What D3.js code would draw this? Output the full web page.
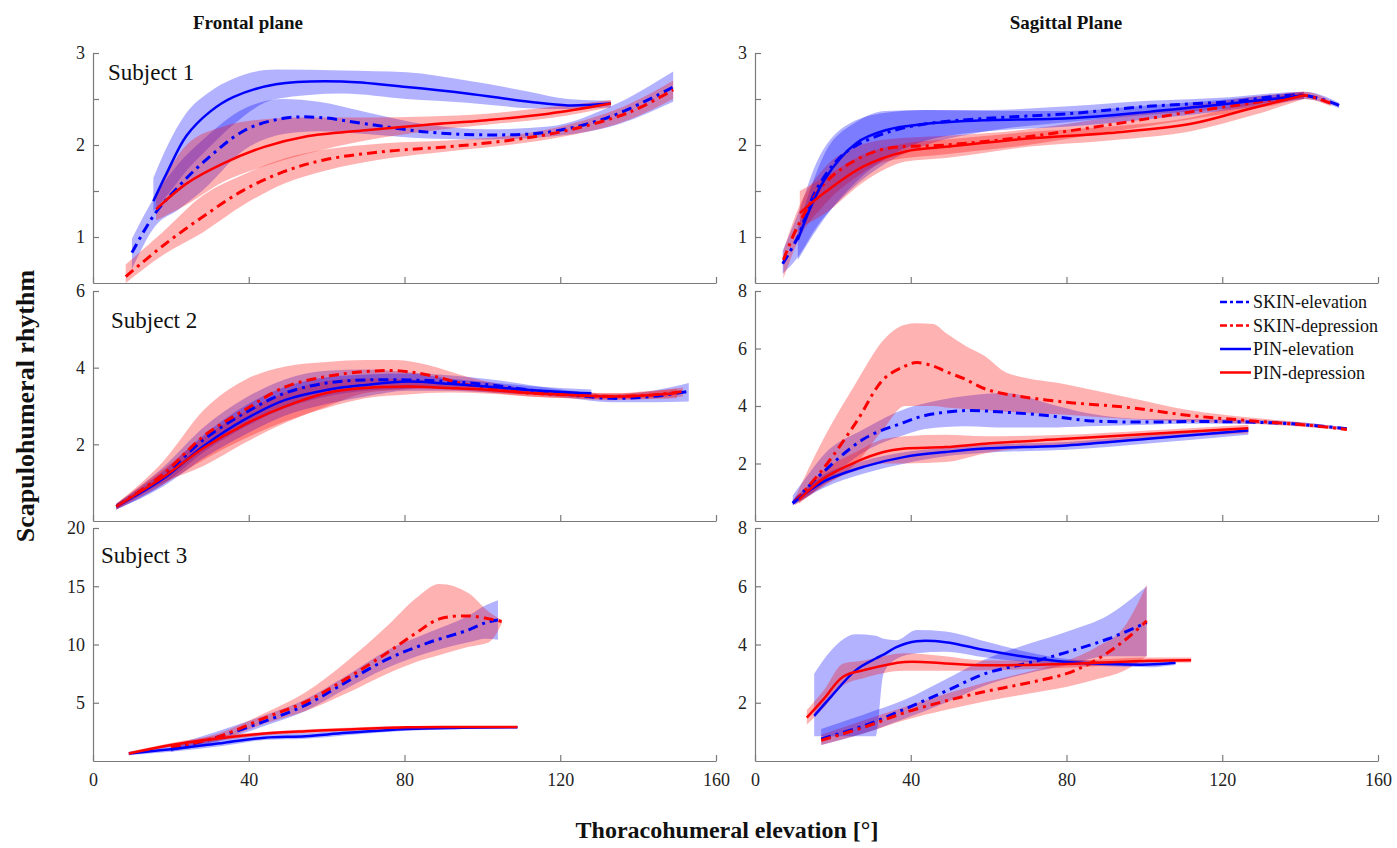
<!DOCTYPE html>
<html>
<head>
<meta charset="utf-8">
<script src="https://cdn.jsdelivr.net/npm/d3@7/dist/d3.min.js"></script>
<style>
  body { margin: 0; background: #fff; }
  svg { display: block; font-family: "Liberation Serif", "Times New Roman", serif; }
</style>
</head>
<body>
<div id="chart"></div>
<script>
// rows are [elevation, mean, lower, upper]
const seriesNames = ["SKIN-elevation", "SKIN-depression", "PIN-elevation", "PIN-depression"];
const planeTitles = ["Frontal plane", "Sagittal Plane"];
const subjectNames = ["Subject 1", "Subject 2", "Subject 3"];
const xTicks = [0, 40, 80, 120, 160];

// ---- subject 1, frontal
const f1SkinElev = [[10, 0.83, 0.65, 0.98], [16, 1.26, 1.12, 1.45], [22, 1.55, 1.3, 1.8], [28, 1.8, 1.5, 2.05],
  [39, 2.16, 1.95, 2.4], [49, 2.29, 2.12, 2.5], [58, 2.30, 2.15, 2.47], [70, 2.23, 2.12, 2.36], [86, 2.14, 2.07, 2.22],
  [101, 2.11, 2.06, 2.17], [117, 2.14, 2.09, 2.2], [133, 2.31, 2.2, 2.42], [149, 2.63, 2.47, 2.8]];
const f1SkinDep = [[8.4, 0.57, 0.5, 0.7], [17.8, 0.9, 0.8, 1.05], [28.2, 1.22, 1.05, 1.45], [38.7, 1.51, 1.35, 1.68],
  [49, 1.71, 1.58, 1.85], [59.6, 1.84, 1.72, 1.95], [75, 1.93, 1.85, 2.02], [91, 1.98, 1.93, 2.05], [106.7, 2.05, 2.0, 2.1],
  [122, 2.16, 2.1, 2.22], [138, 2.36, 2.28, 2.45], [149, 2.60, 2.5, 2.7]];
const f1PinElev = [[15.5, 1.39, 1.28, 1.64], [19, 1.7, 1.45, 1.98], [24, 2.1, 1.72, 2.35], [30, 2.36, 1.98, 2.58],
  [36, 2.52, 2.22, 2.72], [47, 2.66, 2.5, 2.82], [64, 2.69, 2.56, 2.81], [80.5, 2.63, 2.5, 2.79], [96, 2.56, 2.46, 2.7],
  [112, 2.47, 2.4, 2.58], [122, 2.43, 2.39, 2.5], [133, 2.45, 2.41, 2.48]];
const f1PinDep = [[16.2, 1.30, 1.18, 1.45], [24, 1.58, 1.35, 2.0], [33.5, 1.80, 1.6, 2.2], [44, 1.98, 1.77, 2.28],
  [54.4, 2.09, 1.9, 2.3], [70, 2.16, 2.05, 2.3], [85.8, 2.22, 2.15, 2.31], [101, 2.27, 2.22, 2.34],
  [117, 2.34, 2.29, 2.41], [133, 2.45, 2.41, 2.49]];

// ---- subject 1, sagittal
const s1SkinElev = [[7.1, 0.71, 0.6, 0.85], [11, 1.0, 0.78, 1.25], [15.7, 1.51, 1.1, 1.8], [23, 1.91, 1.45, 2.2],
  [33.5, 2.13, 1.8, 2.35], [44, 2.23, 2.0, 2.38], [59.6, 2.29, 2.15, 2.38], [80.5, 2.34, 2.25, 2.42],
  [101, 2.42, 2.33, 2.48], [122, 2.47, 2.4, 2.52], [141, 2.54, 2.5, 2.58], [150, 2.43, 2.4, 2.46]];
const s1SkinDep = [[7.3, 0.75, 0.55, 0.85], [11, 1.12, 0.95, 1.3], [17.8, 1.58, 1.35, 1.75], [26, 1.84, 1.65, 1.98],
  [33.5, 1.96, 1.82, 2.06], [49, 2.0, 1.9, 2.1], [70, 2.09, 2.0, 2.17], [91, 2.22, 2.14, 2.3], [112, 2.36, 2.28, 2.43],
  [133, 2.49, 2.43, 2.55], [141, 2.54, 2.5, 2.58], [148, 2.45, 2.42, 2.48]];
const s1PinElev = [[11, 0.97, 0.75, 1.1], [17.8, 1.62, 1.2, 1.9], [26, 2.02, 1.6, 2.25], [33.5, 2.16, 1.85, 2.37],
  [44, 2.23, 2.05, 2.38], [59.6, 2.27, 2.15, 2.37], [80.5, 2.29, 2.2, 2.37], [101, 2.36, 2.28, 2.43],
  [122, 2.45, 2.38, 2.5], [141, 2.54, 2.5, 2.58]];
const s1PinDep = [[11.5, 1.26, 1.1, 1.5], [17.8, 1.48, 1.25, 1.65], [28, 1.77, 1.6, 1.9], [38.7, 1.93, 1.82, 2.02],
  [49, 1.98, 1.86, 2.06], [70, 2.07, 1.98, 2.14], [91, 2.13, 2.05, 2.2], [112, 2.23, 2.15, 2.3],
  [127.6, 2.40, 2.32, 2.47], [141, 2.54, 2.5, 2.58]];

// ---- subject 2, frontal
const f2SkinElev = [[6, 0.38, 0.3, 0.45], [18, 1.18, 0.95, 1.4], [28.5, 2.13, 1.8, 2.45], [39, 2.82, 2.45, 3.2],
  [49.4, 3.34, 2.95, 3.7], [60, 3.6, 3.25, 3.92], [70, 3.68, 3.4, 3.95], [80.8, 3.68, 3.45, 3.88], [91.3, 3.64, 3.5, 3.8],
  [101.8, 3.55, 3.45, 3.7], [112, 3.42, 3.32, 3.55], [122.7, 3.29, 3.2, 3.4], [133, 3.2, 3.1, 3.3],
  [143.7, 3.25, 3.1, 3.4], [153, 3.38, 3.12, 3.6]];
const f2SkinDep = [[6, 0.38, 0.3, 0.45], [18, 1.22, 1.0, 1.55], [28.5, 2.22, 1.44, 2.9], [39, 2.9, 2.04, 3.68],
  [49.4, 3.5, 2.56, 4.03], [60, 3.77, 2.99, 4.15], [70, 3.9, 3.34, 4.2], [78, 3.92, 3.42, 4.2], [86, 3.81, 3.45, 4.07],
  [96.5, 3.55, 3.4, 3.75], [112, 3.34, 3.25, 3.45], [122.7, 3.29, 3.2, 3.38], [133, 3.25, 3.18, 3.33],
  [143.7, 3.29, 3.2, 3.38], [151.5, 3.38, 3.25, 3.48]];
const f2PinElev = [[6, 0.38, 0.3, 0.45], [18, 1.1, 0.9, 1.3], [28.5, 1.96, 1.65, 2.25], [39, 2.65, 2.25, 3.0],
  [49.4, 3.16, 2.75, 3.5], [60, 3.42, 3.05, 3.75], [70, 3.55, 3.25, 3.82], [80.8, 3.64, 3.4, 3.85],
  [91.3, 3.58, 3.4, 3.72], [101.8, 3.5, 3.35, 3.62], [112, 3.42, 3.3, 3.52], [128, 3.33, 3.24, 3.43]];
const f2PinDep = [[6, 0.38, 0.3, 0.45], [18, 1.14, 0.95, 1.35], [28.5, 1.91, 1.6, 2.2], [39, 2.52, 2.15, 2.85],
  [49.4, 2.99, 2.6, 3.35], [60, 3.34, 2.95, 3.65], [70, 3.47, 3.2, 3.72], [80.8, 3.51, 3.3, 3.7], [91.3, 3.47, 3.35, 3.6],
  [101.8, 3.42, 3.32, 3.52], [112, 3.34, 3.25, 3.44], [122.7, 3.29, 3.2, 3.38], [133, 3.25, 3.15, 3.33],
  [143.7, 3.29, 3.18, 3.4], [150, 3.34, 3.2, 3.45]];

// ---- subject 2, sagittal
const s2SkinElev = [[9.7, 0.62, 0.55, 0.9], [13, 1.1, 0.8, 1.5], [17.6, 1.71, 1.3, 2.3], [28, 2.86, 2.4, 3.2],
  [38.5, 3.44, 3.0, 3.9], [43.7, 3.67, 3.2, 4.1], [54, 3.84, 3.3, 4.35], [64.6, 3.78, 3.25, 4.45], [75, 3.67, 3.25, 4.1],
  [85.5, 3.49, 3.3, 3.75], [101, 3.44, 3.35, 3.55], [111.6, 3.46, 3.38, 3.55], [127, 3.44, 3.38, 3.52],
  [138, 3.38, 3.33, 3.45], [152, 3.21, 3.17, 3.26]];
const s2SkinDep = [[10.2, 0.68, 0.55, 0.8], [17.6, 1.83, 1.2, 2.86], [26, 3.44, 2.0, 4.82], [33, 4.93, 3.2, 6.3],
  [38.5, 5.39, 4.0, 6.83], [41.5, 5.51, 4.0, 6.88], [45.8, 5.39, 4.0, 6.85], [49, 5.2, 3.95, 6.54], [54, 4.93, 3.9, 6.1],
  [59, 4.6, 3.85, 5.74], [64.6, 4.41, 3.8, 5.16], [80, 4.13, 3.7, 4.75], [95.9, 3.95, 3.55, 4.3],
  [111.6, 3.67, 3.45, 3.85], [127, 3.49, 3.38, 3.6], [143, 3.32, 3.25, 3.4], [152, 3.18, 3.14, 3.24]];
const s2PinElev = [[9.7, 0.62, 0.55, 0.75], [17.6, 1.37, 1.15, 1.6], [28, 1.89, 1.65, 2.1], [38.5, 2.23, 2.0, 2.4],
  [49, 2.4, 2.25, 2.55], [59, 2.52, 2.37, 2.65], [80, 2.63, 2.48, 2.75], [101, 2.86, 2.7, 2.98], [126.7, 3.15, 3.0, 3.25]];
const s2PinDep = [[11.3, 0.74, 0.6, 0.85], [17.6, 1.48, 1.25, 1.75], [26, 2.06, 1.75, 2.4], [33, 2.4, 2.0, 2.85],
  [38.5, 2.52, 2.0, 2.95], [49, 2.57, 2.05, 3.0], [59, 2.69, 2.35, 2.95], [80, 2.86, 2.65, 3.0], [101, 3.03, 2.85, 3.15],
  [126.7, 3.23, 3.05, 3.35]];

// ---- subject 3, frontal
const f3SkinElev = [[20, 1.0, 0.8, 1.3], [31.5, 2.0, 1.6, 2.5], [44, 3.4, 3.0, 3.9], [54.6, 4.8, 4.3, 5.3],
  [65, 6.77, 6.2, 7.3], [75.6, 8.74, 8.0, 9.5], [86, 10.14, 9.3, 11.0], [96.5, 11.26, 10.2, 12.5],
  [101, 11.9, 10.5, 13.4], [104, 12.1, 10.4, 13.8]];
const f3SkinDep = [[20, 1.15, 0.9, 1.4], [31.5, 2.0, 1.7, 2.3], [44, 3.68, 3.2, 4.1], [54.6, 5.08, 4.3, 5.9],
  [65, 7.05, 5.8, 8.5], [75.6, 9.3, 7.5, 11.6], [83, 11.0, 8.5, 14.0], [89, 12.2, 9.1, 15.2], [96.5, 12.45, 9.8, 14.4],
  [101.7, 12.2, 10.2, 12.8], [105, 11.97, 11.8, 12.1]];
const f3PinElev = [[9.2, 0.65, 0.5, 0.8], [20, 1.0, 0.8, 1.3], [33.7, 1.57, 1.3, 1.9], [44, 2.0, 1.8, 2.3],
  [54.6, 2.13, 1.9, 2.4], [65, 2.42, 2.2, 2.65], [80.8, 2.75, 2.6, 2.9], [95, 2.85, 2.75, 2.95], [109, 2.9, 2.8, 3.0]];
const f3PinDep = [[9.2, 0.65, 0.5, 0.8], [20, 1.38, 1.2, 1.55], [33.7, 2.0, 1.8, 2.2], [44, 2.36, 2.2, 2.5],
  [54.6, 2.56, 2.4, 2.7], [65, 2.7, 2.6, 2.85], [80.8, 2.9, 2.8, 3.0], [95, 2.92, 2.85, 3.0], [109, 2.92, 2.85, 3.0]];

// ---- subject 3, sagittal
const s3SkinElev = [[17, 0.76, 0.55, 1.1], [28, 1.21, 0.95, 1.6], [38.4, 1.78, 1.45, 2.1], [48.9, 2.39, 2.0, 2.8],
  [59.3, 3.01, 2.6, 3.5], [69.7, 3.35, 3.0, 4.0], [80.2, 3.74, 3.3, 4.45], [90.6, 4.19, 3.6, 5.0], [100.6, 4.75, 3.6, 6.0]];
const s3SkinDep = [[17, 0.71, 0.55, 0.9], [28, 1.16, 0.95, 1.4], [38.4, 1.66, 1.4, 1.85], [48.9, 2.06, 1.75, 2.3],
  [59.3, 2.39, 2.05, 2.7], [69.7, 2.67, 2.3, 3.05], [80.2, 3.01, 2.55, 3.45], [87.5, 3.46, 2.8, 3.9],
  [94.8, 4.13, 3.1, 4.6], [100.6, 4.81, 3.6, 6.05]];
const s3PinElev = [[15.2, 1.55, 0.85, 3.0], [19.6, 2.22, 0.85, 3.8], [25.9, 3.12, 0.85, 4.35], [31, 3.52, 0.85, 4.3],
  [33, 3.65, 3.0, 4.2], [36.3, 3.91, 3.5, 4.15], [41.5, 4.11, 3.7, 4.5], [48.9, 4.08, 3.75, 4.45], [59.3, 3.8, 3.55, 4.1],
  [69.7, 3.57, 3.4, 3.75], [80.2, 3.4, 3.3, 3.5], [90.6, 3.33, 3.25, 3.42], [101, 3.31, 3.22, 3.4], [108, 3.37, 3.3, 3.45]];
const s3PinDep = [[13.3, 1.49, 1.25, 1.75], [17.5, 2.11, 1.8, 2.4], [22.7, 2.9, 2.6, 3.35], [28, 3.12, 2.85, 3.45],
  [38.4, 3.4, 3.1, 3.7], [48.9, 3.35, 3.1, 3.6], [59.3, 3.29, 3.12, 3.45], [80.2, 3.33, 3.2, 3.45],
  [101, 3.44, 3.35, 3.55], [112, 3.46, 3.38, 3.55]];

// y axis ranges / ticks per row and column
const yDomains = [[[0.5, 3], [0.5, 3]], [[0, 6], [0, 8]], [[0, 20], [0, 8]]];
const yTickSets = [[[1, 1.5, 2, 2.5, 3], [1, 1.5, 2, 2.5, 3]], [[2, 4, 6], [2, 4, 6, 8]], [[5, 10, 15, 20], [2, 4, 6, 8]]];
const yLabelled = [[[1, 2, 3], [1, 2, 3]], [[2, 4, 6], [2, 4, 6, 8]], [[5, 10, 15, 20], [2, 4, 6, 8]]];

const panelData = [
  [[f1SkinElev, f1SkinDep, f1PinElev, f1PinDep], [s1SkinElev, s1SkinDep, s1PinElev, s1PinDep]],
  [[f2SkinElev, f2SkinDep, f2PinElev, f2PinDep], [s2SkinElev, s2SkinDep, s2PinElev, s2PinDep]],
  [[f3SkinElev, f3SkinDep, f3PinElev, f3PinDep], [s3SkinElev, s3SkinDep, s3PinElev, s3PinDep]]
];

// styling for the 4 series (same order as seriesNames)
const seriesStyle = [
  { color: "#0000ff", dash: "10,5,3,5", width: 3 },
  { color: "#ff0000", dash: "10,5,3,5", width: 3 },
  { color: "#0000ff", dash: null, width: 2.5 },
  { color: "#ff0000", dash: null, width: 2.5 }
];

const width = 1397, height = 848;
const colX = [[93, 716], [755, 1378]];
const rowY = [[53, 283], [291, 521], [528, 761]];
const axisColor = "#7a7a7a";

const svg = d3.select("#chart").append("svg")
  .attr("width", width)
  .attr("height", height);

const defs = svg.append("defs");

function drawPanel(row, col) {
  const [x0, x1] = colX[col];
  const [y0, y1] = rowY[row];
  const x = d3.scaleLinear().domain([0, 160]).range([x0, x1]);
  const y = d3.scaleLinear().domain(yDomains[row][col]).range([y1, y0]);

  const clipId = `clip-${row}-${col}`;
  defs.append("clipPath").attr("id", clipId)
    .append("rect").attr("x", x0).attr("y", y0).attr("width", x1 - x0).attr("height", y1 - y0);

  const g = svg.append("g");
  const plot = g.append("g").attr("clip-path", `url(#${clipId})`);

  // bands keep monotone (sharp steps in some), mean lines smoothed
  const area = d3.area()
    .x(d => x(d[0])).y0(d => y(d[2])).y1(d => y(d[3]))
    .curve(d3.curveMonotoneX);
  const line = d3.line()
    .x(d => x(d[0])).y(d => y(d[1]))
    .curve(d3.curveCatmullRom.alpha(0.5));

  const data = panelData[row][col];
  data.forEach((s, i) => {
    plot.append("path").attr("d", area(s))
      .attr("fill", seriesStyle[i].color)
      .attr("fill-opacity", 0.3)
      .attr("stroke", "none");
  });
  data.forEach((s, i) => {
    plot.append("path").attr("d", line(s))
      .attr("fill", "none")
      .attr("stroke", seriesStyle[i].color)
      .attr("stroke-width", seriesStyle[i].width)
      .attr("stroke-dasharray", seriesStyle[i].dash)
      .attr("stroke-linejoin", "round");
  });

  // axes (MATLAB style, ticks inward, box off)
  const labelled = yLabelled[row][col];
  const yAxis = d3.axisLeft(y)
    .tickValues(yTickSets[row][col])
    .tickSizeInner(-6).tickSizeOuter(0).tickPadding(8)
    .tickFormat(v => labelled.includes(v) ? d3.format("d")(v) : "");
  const ya = g.append("g").attr("transform", `translate(${x0},0)`).call(yAxis);

  const bottom = row === 2;
  const xAxis = d3.axisBottom(x)
    .tickValues(xTicks)
    .tickSizeInner(-6).tickSizeOuter(0).tickPadding(12)
    .tickFormat(v => bottom ? d3.format("d")(v) : "");
  const xa = g.append("g").attr("transform", `translate(0,${y1})`).call(xAxis);

  [ya, xa].forEach(a => {
    a.select(".domain").attr("stroke", axisColor).attr("stroke-width", 1.2);
    a.selectAll(".tick line").attr("stroke", axisColor).attr("stroke-width", 1.2);
    a.selectAll(".tick text")
      .attr("fill", "#222")
      .style("font-family", "'Liberation Serif', 'Times New Roman', serif")
      .style("font-size", "18px");
  });
}

for (let r = 0; r < 3; r++) {
  for (let c = 0; c < 2; c++) drawPanel(r, c);
}

// subject labels inside the left panels
const subjectPos = [[108, 80], [111, 328], [101, 563]];
subjectNames.forEach((name, i) => {
  svg.append("text")
    .attr("x", subjectPos[i][0]).attr("y", subjectPos[i][1])
    .style("font-size", "23px").attr("fill", "#111")
    .text(name);
});

// column titles
const titleX = [248, 1066];
planeTitles.forEach((t, i) => {
  svg.append("text")
    .attr("x", titleX[i]).attr("y", 29)
    .attr("text-anchor", "middle")
    .style("font-size", "19px").style("font-weight", "bold")
    .attr("fill", "#111")
    .text(t);
});

// axis titles
svg.append("text")
  .attr("transform", "translate(34,406) rotate(-90)")
  .attr("text-anchor", "middle")
  .style("font-size", "26px").style("font-weight", "bold")
  .attr("fill", "#111")
  .text("Scapulohumeral rhythm");

svg.append("text")
  .attr("x", 727).attr("y", 838)
  .attr("text-anchor", "middle")
  .style("font-size", "24px").style("font-weight", "bold")
  .attr("fill", "#111")
  .text("Thoracohumeral elevation [°]");

// legend in the sagittal / subject 2 panel
const legend = svg.append("g").attr("transform", "translate(1220,302)");
seriesNames.forEach((name, i) => {
  const row = legend.append("g").attr("transform", `translate(0,${i * 23.5})`);
  row.append("line")
    .attr("x1", 0).attr("x2", 31).attr("y1", 0).attr("y2", 0)
    .attr("stroke", seriesStyle[i].color)
    .attr("stroke-width", 2.5)
    .attr("stroke-dasharray", seriesStyle[i].dash ? "7,3,3,3" : null);
  row.append("text")
    .attr("x", 33).attr("y", 6)
    .style("font-size", "18px").attr("fill", "#111")
    .text(name);
});
</script>
</body>
</html>
